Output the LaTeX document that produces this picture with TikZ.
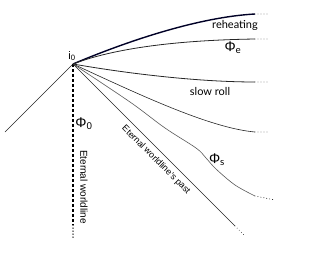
\documentclass[tikz,border=0pt]{standalone}
\usepackage{fontspec}
\setmainfont{Liberation Sans}
\newfontfamily\gill{Lato}
\begin{document}
\begin{tikzpicture}[x=1pt,y=-1pt,
  thinline/.style={line width=0.6pt, draw=black!85},
  grayline/.style={line width=0.6pt, draw=black!65},
  thickline/.style={line width=1.4pt, draw=black!85!blue},
  dotext/.style={line width=0.9pt, line cap=round, dash pattern=on 0pt off 3pt},
  vdash/.style={line width=1.8pt, dash pattern=on 3pt off 2pt},
  lbl/.style={inner sep=0pt, font=\gill\fontsize{11}{13}\selectfont},
  phil/.style={inner sep=0pt, font=\fontsize{14}{16}\selectfont},
  rotl/.style={inner sep=0pt, font=\fontsize{#1}{12}\selectfont}]
\useasboundingbox (0,0) rectangle (330,255);
\coordinate (i0) at (73,64);
\coordinate (L) at (5,132);
% end points
\coordinate (rh) at (255,14);   \coordinate (rhd) at (270,14);
\coordinate (pe) at (255,39);   \coordinate (ped) at (270,39);
\coordinate (sr) at (255,82);   \coordinate (srd) at (270,82);
\coordinate (fo) at (255,132);  \coordinate (fod) at (270,132);
\coordinate (ps) at (255,196);  \coordinate (psd) at (275,200);
\coordinate (ew) at (235,226);  \coordinate (ewd) at (245,236);
\coordinate (vw) at (73,225);   \coordinate (vwd) at (73,238);
% left line
\draw[thinline] (i0) -- (L);
% vertical eternal worldline
\draw[vdash] (i0) -- (vw);
\draw[dotext, line width=1.5pt] (vw) -- (vwd);
% reheating
\draw[thickline] (i0) .. controls (130,40) and (200,17) .. (rh);
\draw[dotext] (rh) -- (rhd);
% phi_e
\draw[thinline, line width=0.8pt] (i0) .. controls (120,46) and (190,40) .. (pe);
\draw[dotext] (pe) -- (ped);
% slow roll
\draw[thinline, line width=0.8pt] (i0) .. controls (130,74) and (200,82) .. (sr);
\draw[dotext] (sr) -- (srd);
% fourth
\draw[thinline] (i0) .. controls (140,95) and (210,128) .. (fo);
\draw[dotext] (fo) -- (fod);
% phi_s wiggly
\draw[grayline] plot[smooth, tension=0.55] coordinates {(73,64) (130,102) (165,128) (196,148) (206,158) (216,169) (235,185) (255,196)};
\draw[dotext] (ps) -- (psd);
% eternal worldline's past
\draw[thinline] (i0) -- (ew);
\draw[dotext] (ew) -- (ewd);
% labels
\node[inner sep=0pt, font=\fontsize{11}{13}\selectfont] (li0) at (72,56) {i\textsubscript{0}};
\node[lbl] (lrh) at (235,25) {reheating};
\node[phil] (lpe) at (233,48) {Φ\textsubscript{\gill e}};
\node[lbl] (lsr) at (210,91) {slow roll};
\node[phil] (lps) at (217,160) {Φ\textsubscript{\gill s}};
\node[phil] (lp0) at (84,124) {Φ\textsubscript{0}};
\node[rotl=10, rotate=-90] (lew) at (84,187) {Eternal worldline};
\node[rotl=9, rotate=-45] (lewp) at (156,160) {Eternal worldline's past};
\end{tikzpicture}
\end{document}
